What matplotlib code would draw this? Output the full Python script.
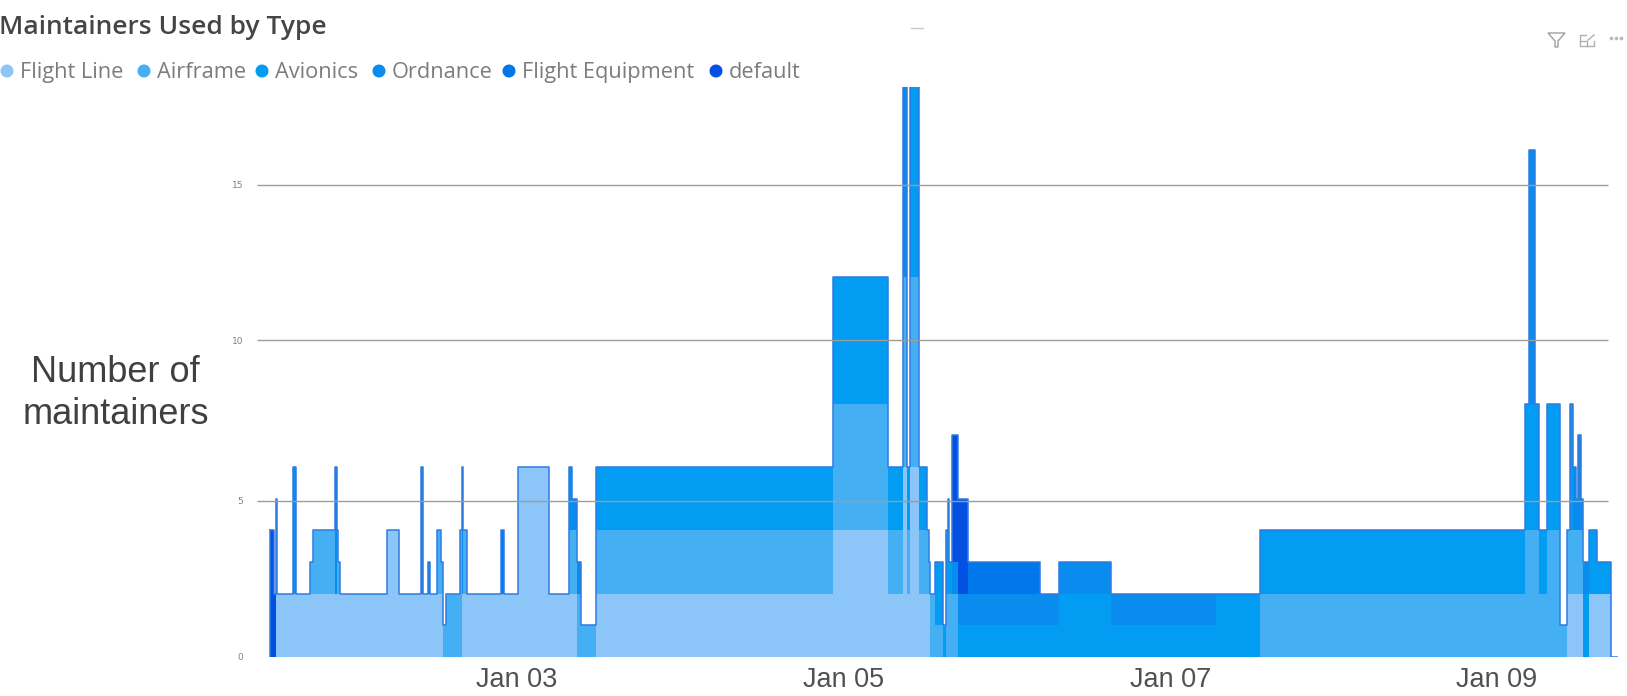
import matplotlib
matplotlib.use("Agg")
import matplotlib.pyplot as plt
from matplotlib.patches import Circle, Polygon

# hours since Jan 01 00:00, each value holds until the next entry
hours = [
    11.70, 12.29, 12.58, 12.77, 15.12, 15.52, 17.58, 18.06, 21.25, 21.50,
    21.74, 21.99, 28.94, 30.66, 33.89, 34.23, 34.88, 35.21, 36.29, 36.79,
    37.17, 37.57, 39.62, 39.92, 40.11, 40.61, 45.60, 46.09, 48.19, 52.70,
    55.64, 56.13, 56.77, 57.45, 59.61, 94.44, 102.53, 104.73, 105.32, 105.76,
    107.08, 108.26, 108.55, 108.70, 109.43, 110.61, 111.05, 111.34, 111.49, 111.93,
    112.81, 114.28, 124.87, 127.66, 135.30, 150.73, 157.20, 196.15, 196.73, 197.62,
    198.20, 199.38, 201.29, 202.32, 202.76, 203.20, 203.64, 203.94, 204.38, 204.67,
    205.55, 206.73, 208.79, 209.81,
]
flight_line = [
    0, 0, 5, 2, 2, 2, 2, 2, 2, 2,
    2, 2, 4, 2, 2, 2, 2, 2, 2, 2,
    0, 0, 0, 2, 2, 2, 2, 2, 6, 2,
    2, 2, 0, 0, 2, 4, 2, 6, 2, 6,
    2, 2, 2, 0, 0, 0, 0, 0, 0, 0,
    0, 0, 0, 0, 0, 0, 0, 0, 0, 0,
    0, 0, 0, 2, 2, 2, 2, 2, 2, 0,
    2, 2, 0, 0,
]
airframe = [
    0, 0, 0, 0, 0, 0, 1, 2, 0, 2,
    1, 0, 0, 0, 0, 0, 0, 0, 2, 1,
    1, 2, 4, 0, 2, 0, 0, 0, 0, 0,
    2, 2, 2, 1, 2, 4, 2, 6, 2, 6,
    2, 2, 1, 2, 1, 0, 2, 2, 2, 2,
    0, 0, 0, 0, 0, 0, 2, 4, 4, 4,
    2, 4, 1, 2, 2, 2, 2, 2, 2, 0,
    0, 0, 0, 0,
]
avionics = [
    0, 0, 0, 0, 0, 0, 0, 0, 0, 0,
    0, 0, 0, 0, 0, 0, 0, 0, 0, 0,
    0, 0, 0, 0, 0, 0, 0, 0, 0, 0,
    0, 0, 0, 0, 2, 4, 2, 0, 2, 12,
    2, 0, 0, 0, 2, 1, 2, 3, 1, 0,
    1, 1, 1, 2, 1, 2, 2, 4, 4, 4,
    2, 4, 0, 0, 4, 0, 0, 0, 0, 2,
    2, 1, 0, 0,
]
ordnance = [
    0, 0, 0, 0, 4, 0, 0, 0, 4, 0,
    0, 0, 0, 0, 4, 0, 1, 0, 0, 0,
    0, 0, 0, 4, 0, 0, 0, 0, 0, 0,
    2, 1, 1, 0, 0, 0, 0, 12, 0, 0,
    0, 0, 0, 0, 0, 0, 0, 0, 0, 1,
    1, 1, 1, 1, 1, 0, 0, 0, 8, 0,
    0, 0, 0, 0, 0, 2, 1, 3, 1, 1,
    0, 0, 0, 0,
]
flight_equipment = [
    0, 0, 0, 0, 0, 0, 0, 0, 0, 0,
    0, 0, 0, 0, 0, 0, 0, 0, 0, 0,
    0, 0, 0, 0, 0, 0, 2, 0, 0, 0,
    0, 0, 0, 0, 0, 0, 0, 0, 0, 0,
    0, 0, 0, 0, 0, 0, 0, 0, 0, 0,
    0, 1, 0, 0, 0, 0, 0, 0, 0, 0,
    0, 0, 0, 0, 0, 0, 0, 0, 0, 0,
    0, 0, 0, 0,
]
default = [
    4, 2, 0, 0, 0, 0, 0, 0, 0, 0,
    0, 0, 0, 0, 0, 0, 0, 0, 0, 0,
    0, 0, 0, 0, 0, 0, 0, 0, 0, 0,
    0, 0, 0, 0, 0, 0, 0, 0, 0, 0,
    0, 0, 0, 0, 0, 0, 0, 0, 0, 4,
    3, 0, 0, 0, 0, 0, 0, 0, 0, 0,
    0, 0, 0, 0, 0, 0, 0, 0, 0, 0,
    0, 0, 0, 0,
]

series_names = ["Flight Line", "Airframe", "Avionics", "Ordnance", "Flight Equipment", "default"]
series_colors = ["#8CC5F7", "#45AFF4", "#029CF3", "#0A8BEE", "#0076EB", "#0450E2"]
legend_marker_x = [7, 144, 262, 379, 509, 716]
y_ticks = [0, 4.93, 10, 14.92]
y_tick_labels = ["0", "5", "10", "15"]
x_ticks = [48, 96, 144, 192]
x_tick_labels = ["Jan 03", "Jan 05", "Jan 07", "Jan 09"]

W, H = 1627, 696
fig = plt.figure(figsize=(W / 100, H / 100), dpi=100)

# overlay in pixel coordinates for the report header around the chart
page = fig.add_axes([0, 0, 1, 1])
page.set_xlim(0, W)
page.set_ylim(H, 0)
page.axis("off")

ax = fig.add_axes([257 / W, (H - 657) / H, (1618 - 257) / W, (657 - 87) / H])
ax.patch.set_alpha(0)

all_series = [flight_line, airframe, avionics, ordnance, flight_equipment, default]
ax.stackplot(hours, all_series, colors=series_colors, step="post", linewidth=0)
total = [sum(v) for v in zip(*all_series)]
ax.step(hours, total, where="post", color="#2F7BE0", lw=1.1, zorder=3)
ax.plot([hours[0], hours[0]], [0, total[0]], color="#2F7BE0", lw=1.1, zorder=3)

ax.set_xlim(9.79, 209.81)
ax.set_ylim(0, 18.0)
ax.hlines(y_ticks[1:], 9.79, 208.4, color="#9C9C98", lw=1.0, zorder=4)

for side in ax.spines.values():
    side.set_visible(False)
ax.set_yticks(y_ticks)
ax.set_yticklabels(y_tick_labels)
ax.set_xticks(x_ticks)
ax.set_xticklabels(x_tick_labels, fontsize=19.5, color="#505050", family="Liberation Sans")
ax.tick_params(axis="x", length=0, pad=7)
ax.tick_params(axis="y", length=0, pad=10, labelsize=6.5, labelcolor="#808080")

page.text(115, 372, "Number of", fontsize=26, color="#404040", family="Liberation Sans",
          ha="center", va="center")
page.text(116, 415, "maintainers", fontsize=26, color="#404040", family="Liberation Sans",
          ha="center", va="center")

page.text(-1, 28, "Maintainers Used by Type", fontsize=19, color="#454545", family="Open Sans",
          weight="semibold", ha="left", va="center")

# legend row
for name, color, mx in zip(series_names, series_colors, legend_marker_x):
    page.add_patch(Circle((mx, 71), 6.5, color=color, lw=0))
    page.text(mx + 13, 72.5, name, fontsize=15.7, color="#7C7C7C", family="Open Sans",
              ha="left", va="center")

# visual header icons: filter, focus mode, more options
page.add_patch(Polygon([(1548, 33), (1565, 33), (1558, 41), (1558, 47), (1555, 47), (1555, 41)],
                       closed=True, fill=False, edgecolor="#A0A0A0", lw=1))
page.plot([1586, 1580, 1580, 1594, 1594], [35, 35, 46, 46, 41], color="#B0B0B0", lw=1)
page.plot([1580, 1587, 1587], [41, 41, 46], color="#B0B0B0", lw=1)
page.plot([1588, 1594], [40, 35], color="#B0B0B0", lw=1)
page.plot([1611, 1616, 1621], [38, 38, 38], ls="none", marker="o", ms=1.6, color="#B8B8B8")
page.plot([911, 923], [28, 28], color="#C8C8C8", lw=1)

fig.savefig("out.png", dpi=100, facecolor="white")
